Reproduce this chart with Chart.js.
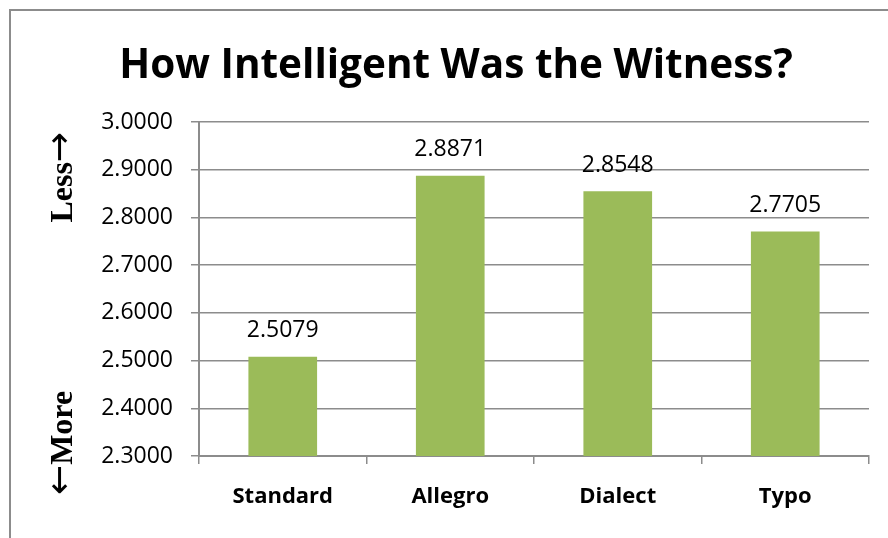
<!DOCTYPE html>
<html lang="en">
<head>
    <meta charset="UTF-8">
    <title>How Intelligent Was the Witness?</title>
    <script src="https://cdn.jsdelivr.net/npm/chart.js"></script>
    <style>
        body {
            margin: 0;
            padding: 0;
            background-color: #fff;
            overflow: hidden;
        }
        .frame {
            position: absolute;
            left: 9px;
            top: 9px;
            width: 920px;
            height: 580px;
            border: 2px solid #8c8c8c;
        }
        .wrap {
            position: absolute;
            left: 0;
            top: 0;
            width: 888px;
            height: 538px;
        }
    </style>
</head>
<body>
    <div class="frame"></div>
    <div class="wrap">
        <canvas id="witnessChart" width="888" height="538"></canvas>
    </div>

    <script>
        const categories = ['Standard', 'Allegro', 'Dialect', 'Typo'];
        const ratings = [2.5079, 2.8871, 2.8548, 2.7705];
        const yMin = 2.3;
        const yMax = 3.0;
        const yStep = 0.1;

        const gridGray = '#8c8c8c';
        const barGreen = '#9bbb59';

        // values above the bars
        const valueLabels = {
            id: 'valueLabels',
            afterDatasetsDraw(chart) {
                const ctx = chart.ctx;
                const meta = chart.getDatasetMeta(0);
                ctx.save();
                ctx.font = '23px "Open Sans"';
                ctx.fillStyle = '#000';
                ctx.textAlign = 'center';
                ctx.textBaseline = 'middle';
                meta.data.forEach((bar, i) => {
                    ctx.fillText(ratings[i].toFixed(4), bar.x, bar.y - 26);
                });
                ctx.restore();
            }
        };

        // the two rotated "Less" / "More" side labels, arrows drawn in a font with long arrows
        const sideLabels = {
            id: 'sideLabels',
            afterDraw(chart) {
                const ctx = chart.ctx;
                const area = chart.chartArea;
                const wordFont = 'bold 32px "Liberation Serif"';
                const arrowFont = '36px "DejaVu Sans"';
                ctx.save();
                ctx.fillStyle = '#000';
                ctx.textBaseline = 'middle';
                ctx.translate(64, 0);
                ctx.rotate(-Math.PI / 2);
                ctx.textAlign = 'left';

                // Less ->  (ends near top of plot)
                ctx.font = arrowFont;
                const arrowW = ctx.measureText('\u2192').width;
                ctx.font = wordFont;
                const lessW = ctx.measureText('Less').width;
                let x = -area.top - 10 - arrowW - lessW;
                ctx.fillText('Less', x, 0);
                ctx.font = arrowFont;
                ctx.fillText('\u2192', x + lessW, -2);

                // <- More  (starts near bottom)
                x = -area.bottom - 39;
                ctx.fillText('\u2190', x, -2);
                ctx.font = wordFont;
                ctx.fillText('More', x + arrowW, 0);
                ctx.restore();
            }
        };

        const ctx = document.getElementById('witnessChart').getContext('2d');
        const witnessChart = new Chart(ctx, {
            type: 'bar',
            data: {
                labels: categories,
                datasets: [{
                    data: ratings,
                    backgroundColor: barGreen,
                    borderWidth: 0,
                    barPercentage: 0.41,
                    categoryPercentage: 1.0
                }]
            },
            options: {
                responsive: false,
                animation: false,
                layout: {
                    padding: { left: 24, right: 0, top: 0, bottom: 0 }
                },
                plugins: {
                    legend: { display: false },
                    tooltip: { enabled: false },
                    title: {
                        display: true,
                        text: 'How Intelligent Was the Witness?',
                        color: '#000',
                        font: { family: 'Open Sans', size: 40.5, weight: 'bold', lineHeight: 1 },
                        padding: { top: 46, bottom: 35.5 }
                    }
                },
                scales: {
                    x: {
                        offset: true,
                        grid: {
                            offset: true,
                            drawOnChartArea: false,
                            drawTicks: true,
                            tickLength: 8,
                            color: gridGray,
                            lineWidth: 1.5
                        },
                        border: { color: gridGray, width: 2 },
                        ticks: {
                            color: '#000',
                            padding: 20,
                            font: { family: 'Open Sans', size: 22, weight: 'bold' }
                        },
                        afterFit(scale) { scale.height = 82; }
                    },
                    y: {
                        min: yMin,
                        max: yMax,
                        grid: {
                            color: gridGray,
                            lineWidth: 1.5,
                            tickLength: 8
                        },
                        border: { color: gridGray, width: 2 },
                        ticks: {
                            stepSize: yStep,
                            color: '#000',
                            padding: 18,
                            font: { family: 'Open Sans', size: 23 },
                            callback: (v) => Number(v).toFixed(4)
                        },
                        afterFit(scale) { scale.width = 175; }
                    },
                    // empty spacer on the right so the plot stops short of the edge
                    yRight: {
                        position: 'right',
                        min: yMin,
                        max: yMax,
                        grid: { display: false },
                        border: { display: false },
                        ticks: { display: false },
                        afterFit(scale) { scale.width = 19; }
                    }
                }
            },
            plugins: [valueLabels, sideLabels]
        });
    </script>
</body>
</html>
